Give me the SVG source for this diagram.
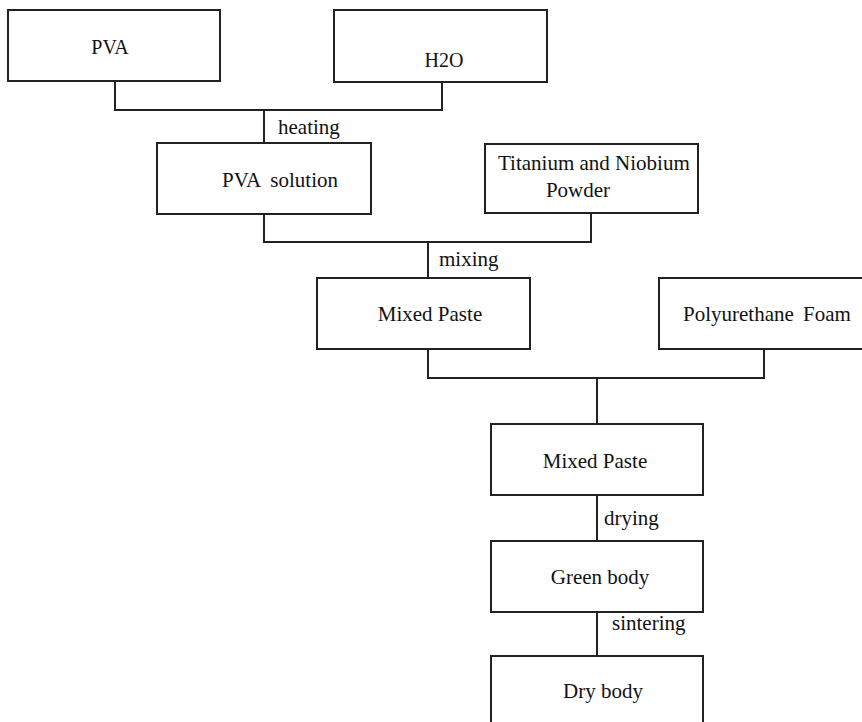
<svg xmlns="http://www.w3.org/2000/svg" width="862" height="722" viewBox="0 0 862 722">
<style>
.box{fill:#fff;stroke:#222;stroke-width:2}
.ln{fill:none;stroke:#222;stroke-width:2}
.c{text-anchor:middle}
</style>
<rect width="862" height="722" fill="#fff"/>
<g font-family="Liberation Serif, DejaVu Serif, serif" font-size="21" fill="#111">
<g id="connectors">
<path class="ln" d="M115,82 V110 H442 V82"/>
<path class="ln" d="M264,110 V143"/>
<path class="ln" d="M264,214 V242 H591 V213"/>
<path class="ln" d="M428,242 V278"/>
<path class="ln" d="M428,349 V378 H764 V349"/>
<path class="ln" d="M597,378 V424"/>
<path class="ln" d="M597,495 V541"/>
<path class="ln" d="M597,612 V656"/>
<text x="278" y="134">heating</text>
<text x="439" y="266">mixing</text>
<text x="604" y="525">drying</text>
<text x="612" y="630">sintering</text>
</g>
<g id="pva"><rect class="box" x="8" y="10" width="212" height="71"/><text class="c" x="110" y="54" font-size="20">PVA</text></g>
<g id="h2o"><rect class="box" x="334" y="10" width="213" height="72"/><text class="c" x="444" y="67" font-size="20">H2O</text></g>
<g id="pva-solution"><rect class="box" x="157" y="143" width="214" height="71"/><text class="c" x="280" y="187">PVA <tspan dx="5">solution</tspan></text></g>
<g id="ti-nb-powder"><rect class="box" x="485" y="144" width="213" height="69"/><text x="498" y="170">Titanium and Niobium</text><text class="c" x="578" y="197">Powder</text></g>
<g id="mixed-paste-1"><rect class="box" x="317" y="278" width="213" height="71"/><text class="c" x="430" y="321">Mixed Paste</text></g>
<g id="polyurethane-foam"><rect class="box" x="659" y="278" width="215" height="71"/><text class="c" x="767" y="321">Polyurethane <tspan dx="4">Foam</tspan></text></g>
<g id="mixed-paste-2"><rect class="box" x="491" y="424" width="212" height="71"/><text class="c" x="595" y="468">Mixed Paste</text></g>
<g id="green-body"><rect class="box" x="491" y="541" width="212" height="71"/><text class="c" x="600" y="584">Green body</text></g>
<g id="dry-body"><rect class="box" x="491" y="656" width="212" height="80"/><text class="c" x="603" y="698">Dry body</text></g>
</g>
</svg>
